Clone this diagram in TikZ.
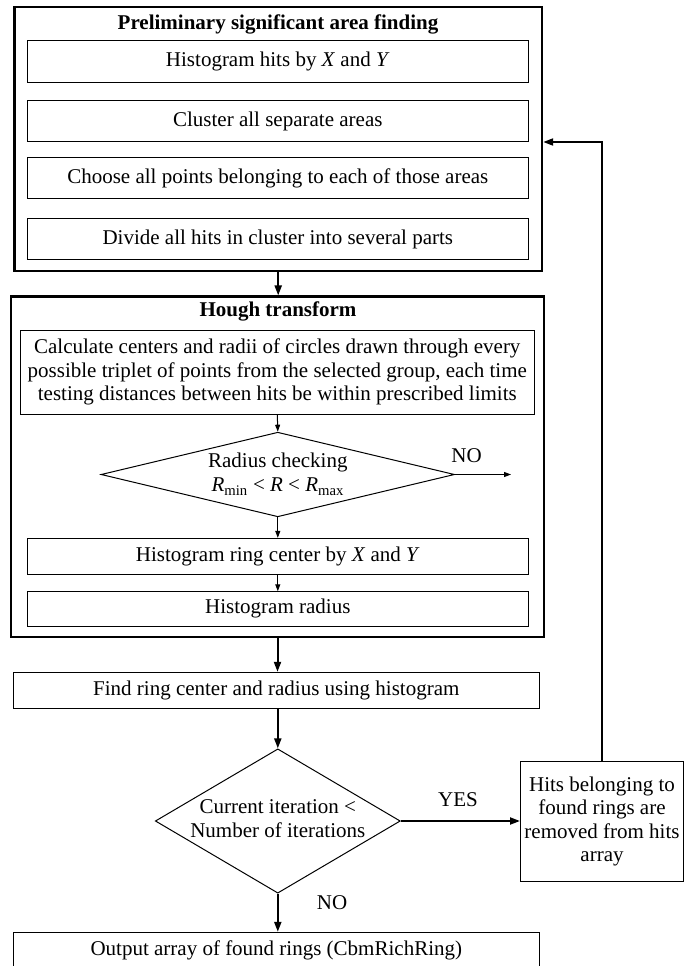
\documentclass[tikz,border=0pt]{standalone}
\usepackage{fontspec}
\setmainfont{Liberation Serif}
\usetikzlibrary{arrows.meta,shapes.geometric}
\tikzset{
  base/.style={font=\fontsize{21}{23.5}\selectfont},
  outerbox/.style={draw, line width=2.4pt, inner sep=0pt},
  inbox/.style={draw, line width=1pt, inner sep=0pt, align=center, base},
  ttl/.style={font=\fontsize{21}{23.5}\selectfont\bfseries},
  dia/.style={draw, diamond, line width=1pt, inner sep=0pt},
  tarrow/.style={line width=1pt, -{Triangle[length=7pt,width=5pt]}},
  karrow/.style={line width=2pt, -{Triangle[length=10pt,width=7pt]}},
}
\begin{document}
\begin{tikzpicture}[x=1pt,y=-1pt]
\fill[white] (0,0) rectangle (685,966);
\clip (0,0) rectangle (685,966);

% Preliminary block
\node[outerbox, minimum width=527.6pt, minimum height=263.7pt] (box1) at (278.2,139.15) {};
\node[ttl] (t1) at (278,24) {Preliminary significant area finding};
\node[inbox, minimum width=501.6pt, minimum height=41pt] (b1) at (277.8,61.5) {Histogram hits by \textit{X} and \textit{Y}};
\node[inbox, minimum width=501.6pt, minimum height=41pt] (b2) at (277.8,121) {Cluster all separate areas};
\node[inbox, minimum width=501.6pt, minimum height=41pt] (b3) at (277.8,178) {Choose all points belonging to each of those areas};
\node[inbox, minimum width=501.6pt, minimum height=41pt] (b4) at (277.8,239.2) {Divide all hits in cluster into several parts};

% Hough block
\node[outerbox, minimum width=533pt, minimum height=340.3pt] (box2) at (277.5,466.8) {};
\node[ttl] (t2) at (278,311.7) {Hough transform};
\node[inbox, minimum width=513.5pt, minimum height=84pt] (calc) at (277.3,372) {Calculate centers and radii of circles drawn through every\\possible triplet of points from the selected group, each time\\testing distances between hits be within prescribed limits};
\node[dia, minimum width=353.5pt, minimum height=84.6pt] (d1) at (277.8,474.5) {};
\node[base, align=center, inner sep=0pt] (d1t) at (277.8,474) {Radius checking\\[1pt]\textit{R}\textsubscript{min} < \textit{R} < \textit{R}\textsubscript{max}};
\node[inbox, minimum width=501.6pt, minimum height=35.7pt] (hr) at (277.8,556.2) {Histogram ring center by \textit{X} and \textit{Y}};
\node[inbox, minimum width=501.6pt, minimum height=34.3pt] (hrad) at (277.8,608.9) {Histogram radius};
\node[base] (no1) at (466.6,455.7) {NO};
\coordinate (noend) at (511,474.5);

% Lower part
\node[inbox, minimum width=526.5pt, minimum height=36pt] (find) at (276.3,690.3) {Find ring center and radius using histogram};
\node[dia, minimum width=245pt, minimum height=144.3pt] (d2) at (277.8,821) {};
\node[base, align=center, inner sep=0pt] (d2t) at (277.8,818.7) {Current iteration <\\Number of iterations};
\node[inbox, minimum width=163pt, minimum height=119.8pt] (rb) at (602,821.6) {Hits belonging to\\found rings are\\removed from hits\\array};
\node[base] (yes) at (458,800) {YES};
\node[base] (no2) at (332,902.7) {NO};
\node[inbox, minimum width=526.5pt, minimum height=36pt] (out) at (276.3,950.3) {Output array of found rings (CbmRichRing)};
\coordinate (fb) at (box1.east |- b2.south);

% Connectors
\draw[karrow] (box1.south) -- (box1.south |- box2.north);
\draw[tarrow] (calc.south) -- (d1.north);
\draw[tarrow] (d1.south) -- (hr.north);
\draw[tarrow] (hr.south) -- (hrad.north);
\draw[tarrow] (d1.east) -- (noend);
\draw[karrow] (box2.south) -- (box2.south |- find.north);
\draw[karrow] (find.south -| d2.north) -- (d2.north);
\draw[karrow] (d2.east) -- (d2.east -| rb.west);
\draw[karrow] (d2.south) -- (d2.south |- out.north);
\draw[karrow] (rb.north) |- (fb);
\end{tikzpicture}
\end{document}
